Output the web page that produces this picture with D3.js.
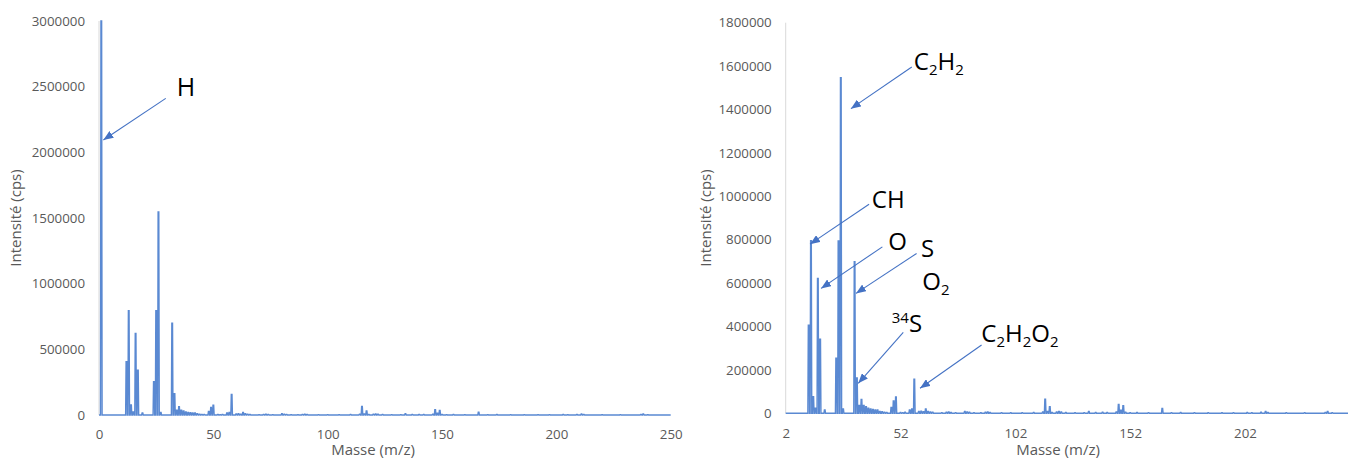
<!DOCTYPE html>
<html>
<head>
<meta charset="utf-8">
<script src="https://cdn.jsdelivr.net/npm/d3@7"></script>
<style>
  html, body { margin: 0; padding: 0; background: #ffffff; }
  svg { display: block; }
</style>
</head>
<body>
<script>
// ---------------- DATA ----------------
const masses = [1, 12, 13, 14, 15, 16, 17, 19, 24, 25, 26, 27, 32, 33, 34, 35, 36, 37, 38, 39, 40, 41, 42, 43, 44, 45, 46,
  48, 49, 50, 52, 53, 54, 56, 57, 58, 60, 61, 62, 63, 64, 65, 66, 70, 72, 73, 74, 76, 80, 81, 82, 84, 87, 89, 90, 91, 96,
  100, 105, 110, 114, 115, 116, 117, 118, 120, 121, 122, 124, 128, 132, 134, 137, 140, 142, 146, 147, 148, 149, 150, 152,
  155, 160, 166, 170, 174, 180, 186, 192, 197, 203, 205, 209, 211, 212, 220, 228, 237, 238, 240];
const intensities = [3000000, 406000, 795000, 76000, 24000, 621000, 342000, 15000, 254000, 794000, 1546000, 20000, 699000,
  163000, 36000, 64000, 36000, 30000, 24000, 20000, 18000, 16000, 16000, 9000, 7000, 5000, 4000,
  27000, 57000, 75000, 4000, 3000, 5000, 16000, 20000, 157000, 8000, 10000, 7000, 20000, 9000, 6000, 5000, 3000, 5000, 6000,
  4000, 3000, 9000, 6000, 5000, 3000, 3000, 5000, 6000, 4000, 3000,
  3000, 3000, 4000, 6000, 65000, 8000, 30000, 4000, 6000, 8000, 6000, 4000, 3000, 3000, 9000, 4000, 5000, 4000, 6000, 41000,
  14000, 35000, 5000, 3000, 4000, 3000, 22000, 3000, 4000, 3000, 3000, 3000, 3000, 4000, 3000, 5000, 8000, 4000, 3000, 3000,
  4000, 8000, 3000];

const leftXTicks = [0, 50, 100, 150, 200, 250];
const leftYTicks = [0, 500000, 1000000, 1500000, 2000000, 2500000, 3000000];
const rightXTicks = [2, 52, 102, 152, 202];
const rightYTicks = [0, 200000, 400000, 600000, 800000, 1000000, 1200000, 1400000, 1600000, 1800000];

const xTitle = "Masse (m/z)";
const yTitle = "Intensité (cps)";

// annotation labels: parts [text, kind]
const leftAnnotLabels = [[["H", ""]]];
const leftAnnotTip = [[1.9, 2094000]];
const leftAnnotTail = [[29.2, 2411000]];
const leftAnnotText = [[34.0, 2431000]];

const rightAnnotLabels = [
  [["C", ""], ["2", "sub"], ["H", ""], ["2", "sub"]],
  [["CH", ""]],
  [["O", ""]],
  [["S", ""]],
  [["O", ""], ["2", "sub"]],
  [["34", "sup"], ["S", ""]],
  [["C", ""], ["2", "sub"], ["H", ""], ["2", "sub"], ["O", ""], ["2", "sub"]]
];
const rightAnnotTip = [[30.4, 1404000], [12.6, 779500], [17.4, 575500], [32.6, 552500], null, [33.6, 138100], [60.5, 115100]];
const rightAnnotTail = [[56.9, 1596000], [38.3, 963600], [44.1, 767000], [59.0, 736600], null, [53.2, 372900], [87.3, 314500]];
const rightAnnotText = [[57.8, 1580000], [39.5, 946600], [46.7, 751800], [60.9, 719600], [61.5, 567700], [48.2, 375700], [87.2, 328300]];

// ---------------- DRAW ----------------
const W = 1348, H = 459;
const BLUE = "#4472C4";
const SPEC = "#5A89D2";
const GREY_TXT = "#595959";
const FONT = "'Open Sans', 'Liberation Sans', sans-serif";

const svg = d3.select("body").append("svg").attr("width", W).attr("height", H);
svg.append("rect").attr("width", W).attr("height", H).attr("fill", "#ffffff");

const defs = svg.append("defs");
defs.append("marker")
  .attr("id", "arrow")
  .attr("viewBox", "0 0 10 8")
  .attr("markerUnits", "userSpaceOnUse")
  .attr("markerWidth", 10).attr("markerHeight", 8)
  .attr("refX", 10).attr("refY", 4)
  .attr("orient", "auto")
  .append("path").attr("d", "M0,0 L10,4 L0,8 Z").attr("fill", BLUE);

const data = masses.map((m, i) => ({ m: m, v: intensities[i] }));

function drawChart(cfg) {
  const g = svg.append("g");
  const x = d3.scaleLinear().domain(cfg.xDomain).range(cfg.xRange);
  const y = d3.scaleLinear().domain(cfg.yDomain).range(cfg.yRange);

  // vertical axis line
  g.append("line")
    .attr("x1", x(cfg.xDomain[0])).attr("x2", x(cfg.xDomain[0]))
    .attr("y1", y(cfg.yDomain[0])).attr("y2", y(cfg.yDomain[1]))
    .attr("stroke", "#D9D9D9").attr("stroke-width", 1);

  // y axis
  const ya = g.append("g").attr("transform", `translate(${x(cfg.xDomain[0])},0)`)
    .call(d3.axisLeft(y).tickValues(cfg.yTicks).tickSize(0).tickPadding(14).tickFormat(d3.format("d")));
  ya.select(".domain").remove();
  ya.selectAll("text").attr("font-family", FONT).attr("font-size", "13.3px").attr("fill", GREY_TXT);

  // x axis
  const xa = g.append("g").attr("transform", `translate(0,${y(0)})`)
    .call(d3.axisBottom(x).tickValues(cfg.xTicks).tickSize(0).tickPadding(15).tickFormat(d3.format("d")));
  xa.select(".domain").remove();
  xa.selectAll("text").attr("font-family", FONT).attr("font-size", "13.3px").attr("fill", GREY_TXT);

  // spectrum line
  const pts = [[cfg.xDomain[0], 0]];
  data.filter(d => d.m >= cfg.xDomain[0] && d.m <= cfg.xDomain[1]).forEach(d => {
    pts.push([d.m - 0.35, 0], [d.m - 0.15, d.v], [d.m + 0.15, d.v], [d.m + 0.35, 0]);
  });
  pts.push([cfg.xDomain[1], 0]);
  const line = d3.line().x(p => x(Math.max(cfg.xDomain[0], p[0]))).y(p => y(p[1]));
  g.append("path").attr("d", line(pts))
    .attr("fill", "none").attr("stroke", SPEC).attr("stroke-width", 1.4)
    .attr("stroke-linejoin", "miter");

  // titles
  g.append("text")
    .attr("transform", `translate(${cfg.yTitleX},${(y(cfg.yDomain[0]) + y(cfg.yDomain[1])) / 2}) rotate(-90)`)
    .attr("text-anchor", "middle").attr("font-family", FONT).attr("font-size", "15px").attr("fill", GREY_TXT)
    .text(yTitle);
  g.append("text")
    .attr("x", cfg.xTitleX).attr("y", 455)
    .attr("text-anchor", "middle").attr("font-family", FONT).attr("font-size", "15px").attr("fill", GREY_TXT)
    .text(xTitle);

  // annotations
  cfg.labels.forEach((parts, i) => {
    const tip = cfg.tips[i], tail = cfg.tails[i], tp = cfg.texts[i];
    if (tip && tail) {
      g.append("line")
        .attr("x1", x(tail[0])).attr("y1", y(tail[1]))
        .attr("x2", x(tip[0])).attr("y2", y(tip[1]))
        .attr("stroke", BLUE).attr("stroke-width", 1.1)
        .attr("marker-end", "url(#arrow)");
    }
    const t = g.append("text").attr("x", x(tp[0])).attr("y", y(tp[1]))
      .attr("font-family", FONT).attr("font-size", cfg.annotSize + "px").attr("fill", "#000000");
    let shift = 0;
    parts.forEach(p => {
      let target = 0, size = cfg.annotSize;
      if (p[1] === "sub") { target = 5; size = 15; }
      if (p[1] === "sup") { target = -9; size = 15; }
      t.append("tspan").attr("dy", target - shift).attr("font-size", size + "px").text(p[0]);
      shift = target;
    });
  });
}

drawChart({
  xDomain: [0, 250], xRange: [99, 670.7],
  yDomain: [0, 3000000], yRange: [415, 21],
  xTicks: leftXTicks, yTicks: leftYTicks,
  yTitleX: 21, xTitleX: 373,
  labels: leftAnnotLabels, tips: leftAnnotTip, tails: leftAnnotTail, texts: leftAnnotText,
  annotSize: 25
});

drawChart({
  xDomain: [2, 247], xRange: [785.7, 1348.3],
  yDomain: [0, 1800000], yRange: [413.3, 22.7],
  xTicks: rightXTicks, yTicks: rightYTicks,
  yTitleX: 710.5, xTitleX: 1058,
  labels: rightAnnotLabels, tips: rightAnnotTip, tails: rightAnnotTail, texts: rightAnnotText,
  annotSize: 24
});
</script>
</body>
</html>
